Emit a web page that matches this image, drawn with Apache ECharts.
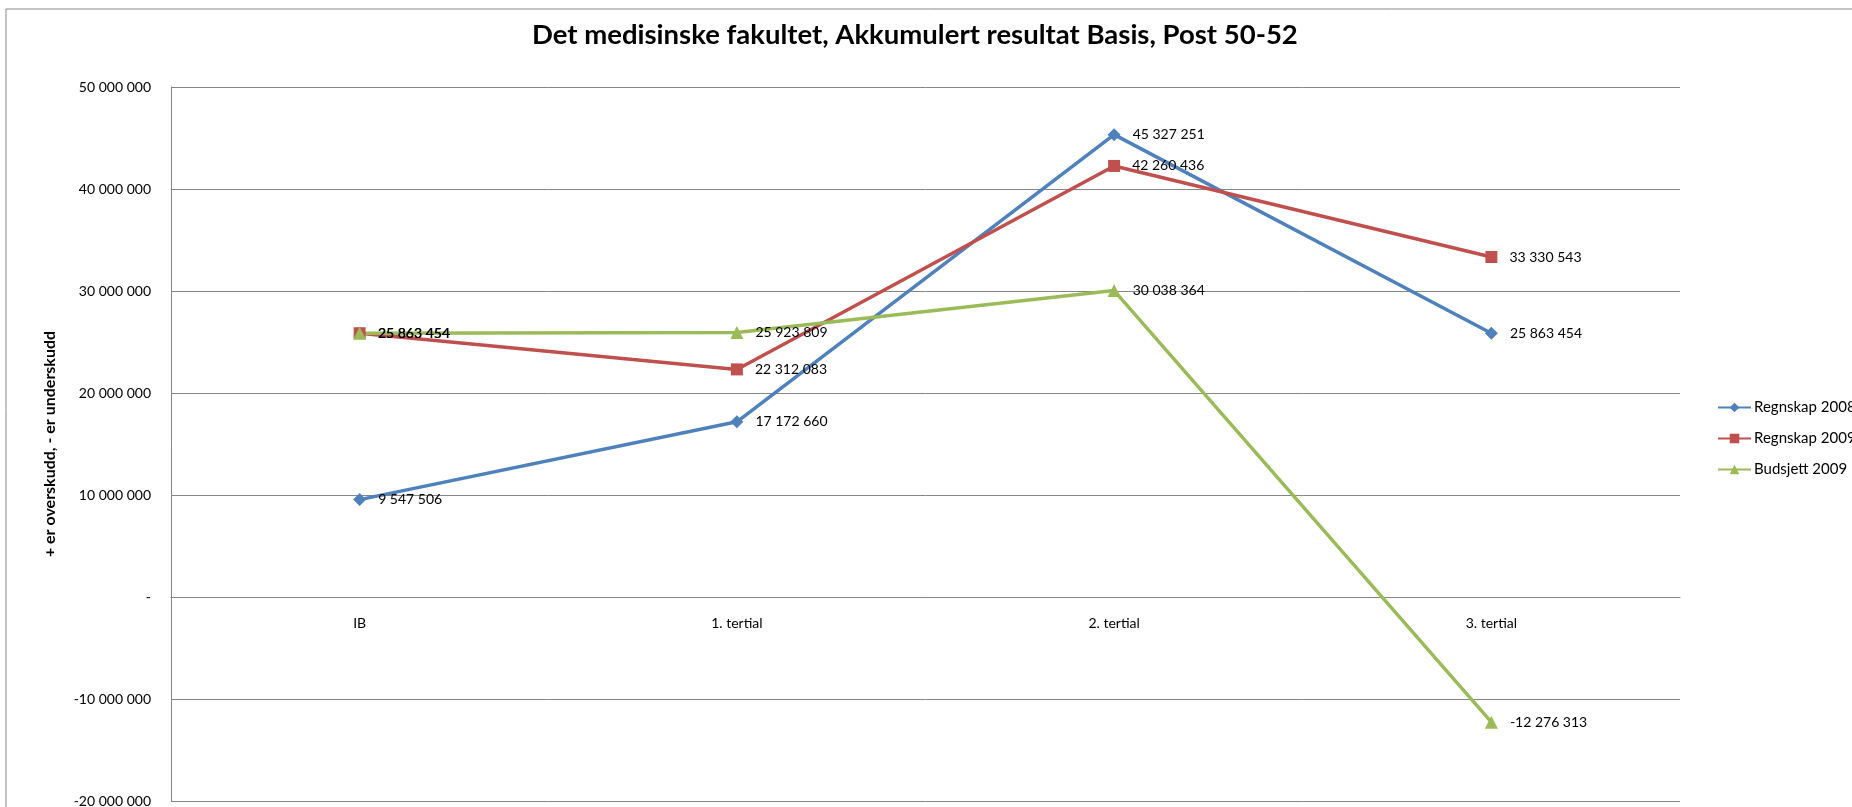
<!DOCTYPE html>
<html>
<head>
<meta charset="utf-8">
<script src="https://cdn.jsdelivr.net/npm/echarts@6/dist/echarts.min.js"></script>
<style>
html,body{margin:0;padding:0;background:#fff;}
#chart{width:1852px;height:807px;}
</style>
</head>
<body>
<div id="chart"></div>
<script>
var categories = ['IB', '1. tertial', '2. tertial', '3. tertial'];
var regnskap2008 = [9547506, 17172660, 45327251, 25863454];
var regnskap2009 = [25863454, 22312083, 42260436, 33330543];
var budsjett2009 = [25863454, 25923809, 30038364, -12276313];
var seriesNames = ['Regnskap 2008', 'Regnskap 2009', 'Budsjett 2009'];
var titleText = 'Det medisinske fakultet, Akkumulert resultat Basis, Post 50-52';
var yAxisTitle = '+ er overskudd, - er underskudd';
var yMin = -20000000, yMax = 50000000, yStep = 10000000;

var FONT = 'Lato, "Open Sans", sans-serif';
var GRID_TOP = 87, GRID_BOTTOM_Y = 801;

function fmt(v) {
  if (v === 0) return '-';
  var neg = v < 0;
  var s = String(Math.abs(Math.round(v)));
  s = s.replace(/\B(?=(\d{3})+(?!\d))/g, ' ');
  return (neg ? '-' : '') + s;
}

// pixel distance of the zero line above the grid bottom (x axis sits on zero)
var zeroOffset = (GRID_BOTTOM_Y - GRID_TOP) * (0 - yMin) / (yMax - yMin);

var chart = echarts.init(document.getElementById('chart'), null, {renderer: 'canvas'});

function mkSeries(name, data, color, symbol, size) {
  return {
    name: name,
    type: 'line',
    data: data,
    symbol: symbol,
    symbolSize: size,
    lineStyle: {color: color, width: 3.5},
    itemStyle: {color: color},
    label: {
      show: true,
      position: 'right',
      distance: 12,
      color: '#000',
      fontFamily: FONT,
      fontSize: 14,
      formatter: function (p) { return fmt(p.value); }
    },
    emphasis: {disabled: true},
    z: 3
  };
}

var option = {
  animation: false,
  backgroundColor: '#fff',
  title: {
    text: titleText,
    left: 527,
    top: 16,
    textStyle: {fontFamily: FONT, fontSize: 27.5, fontWeight: 'bold', color: '#000'}
  },
  graphic: [{
    type: 'rect',
    shape: {x: 6, y: 9, width: 2000, height: 1000},
    style: {fill: 'none', stroke: '#888', lineWidth: 1},
    silent: true,
    z: -1
  }],
  legend: {
    orient: 'vertical',
    left: 1712,
    top: 395,
    itemWidth: 33,
    itemHeight: 12,
    itemGap: 16,
    textStyle: {fontFamily: FONT, fontSize: 15, color: '#000', padding: [0, 0, 0, -2]},
    data: seriesNames
  },
  grid: {left: 171, top: GRID_TOP, right: 172, bottom: 807 - GRID_BOTTOM_Y, containLabel: false, outerBoundsMode: 'none'},
  xAxis: {
    type: 'category',
    data: categories,
    boundaryGap: true,
    position: 'bottom',
    offset: -zeroOffset,
    axisLine: {show: true, onZero: false, lineStyle: {color: '#868686', width: 1}},
    axisTick: {show: false},
    axisLabel: {fontFamily: FONT, fontSize: 14, color: '#000', margin: 19},
    splitLine: {show: false}
  },
  yAxis: {
    type: 'value',
    min: yMin,
    max: yMax,
    interval: yStep,
    name: yAxisTitle,
    nameLocation: 'middle',
    nameGap: 113,
    nameRotate: 90,
    nameTextStyle: {fontFamily: FONT, fontSize: 16, fontWeight: 'bold', color: '#000'},
    axisLine: {show: true, lineStyle: {color: '#868686', width: 1}},
    axisTick: {show: false},
    axisLabel: {fontFamily: FONT, fontSize: 14, color: '#000', margin: 20, formatter: fmt},
    splitLine: {show: true, lineStyle: {color: '#868686', width: 1}}
  },
  series: [
    mkSeries(seriesNames[0], regnskap2008, '#4F81BD', 'diamond', 13),
    mkSeries(seriesNames[1], regnskap2009, '#C0504D', 'rect', 12),
    mkSeries(seriesNames[2], budsjett2009, '#9BBB59', 'triangle', 13)
  ]
};
chart.setOption(option);
</script>
</body>
</html>
